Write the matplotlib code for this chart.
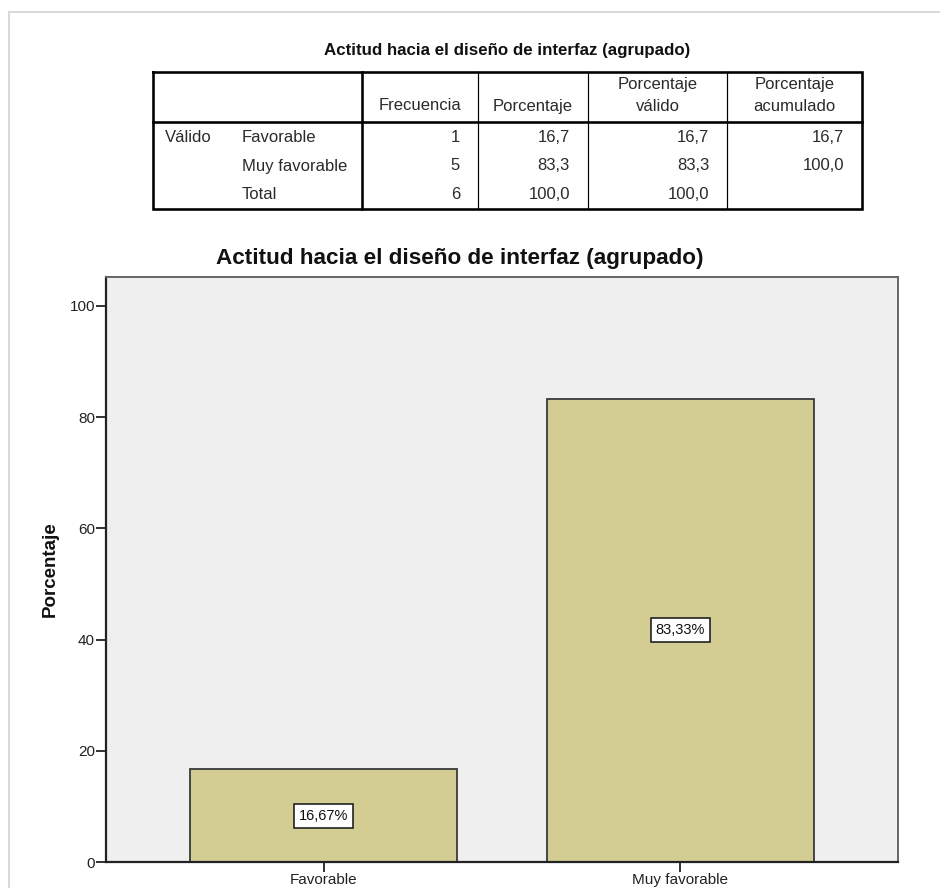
import matplotlib
matplotlib.use("Agg")
import matplotlib.pyplot as plt
from matplotlib import font_manager

# ---- data ----
categories = ["Favorable", "Muy favorable"]
percent_values = [16.67, 83.33]

table_title = "Actitud hacia el diseño de interfaz (agrupado)"
chart_title = "Actitud hacia el diseño de interfaz (agrupado)"
table_group = "Válido"
table_rows = ["Favorable", "Muy favorable", "Total"]
table_headers = ["Frecuencia", "Porcentaje", "Porcentaje\nválido", "Porcentaje\nacumulado"]
freq = [1, 5, 6]
pct = [16.7, 83.3, 100.0]
valid_pct = [16.7, 83.3, 100.0]
cum_pct = [16.7, 100.0, None]
y_ticks = [0, 20, 40, 60, 80, 100]
y_label = "Porcentaje"

BASE = "Liberation Sans"
installed = {f.name for f in font_manager.fontManager.ttflist}
NARROW = "Liberation Sans Narrow" if "Liberation Sans Narrow" in installed else None
plt.rcParams["font.family"] = [BASE, "DejaVu Sans"]

W, H = 940, 888
fig = plt.figure(figsize=(W / 100, H / 100), dpi=100)
fig.patch.set_facecolor("white")


def fx(px):
    return px / W


def fy(py):
    return 1 - py / H


def comma(v, nd):
    return f"{v:.{nd}f}".replace(".", ",")


# ---- bar chart ----
ax = fig.add_axes([fx(106), fy(862), fx(898) - fx(106), fy(277) - fy(862)])
ax.set_facecolor("#efefef")
x = list(range(len(categories)))
bars = ax.bar(x, percent_values, width=0.75, color="#d4cd93",
              edgecolor="#3a3a3a", linewidth=1.3, zorder=2)
for b, v in zip(bars, percent_values):
    ax.text(b.get_x() + b.get_width() / 2, v / 2, comma(v, 2) + "%",
            ha="center", va="center", fontsize=10.5, color="#111111", zorder=3,
            bbox=dict(boxstyle="square,pad=0.35", facecolor="white",
                      edgecolor="#222222", linewidth=1.2))
ax.set_xlim(-0.61, 1.61)
ax.set_ylim(0, 105.2)
ax.set_yticks(y_ticks)
ax.set_yticklabels([str(t) for t in y_ticks])
ax.set_xticks(x)
ax.set_xticklabels(categories)
ax.tick_params(axis="y", length=7, width=1.3, color="#222222",
               labelsize=11, labelcolor="#222222", pad=1)
ax.tick_params(axis="x", length=7, width=1.3, color="#222222",
               labelsize=11, labelcolor="#222222", pad=1)
for side in ("left", "bottom"):
    ax.spines[side].set_color("#222222")
    ax.spines[side].set_linewidth(1.6)
for side in ("top", "right"):
    ax.spines[side].set_color("#666666")
    ax.spines[side].set_linewidth(1.4)
ax.set_ylabel(y_label, fontsize=13.5, fontweight="bold", color="#111111",
              labelpad=8)
fig.text(fx(460), fy(258), chart_title, ha="center", va="center",
         fontsize=16.2, fontweight="bold", color="#111111")

# ---- frequency table and frame (pixel coordinates) ----
ov = fig.add_axes([0, 0, 1, 1], zorder=5)
ov.set_xlim(0, W)
ov.set_ylim(H, 0)
ov.axis("off")
ov.patch.set_alpha(0)

px = 0.72  # points per pixel
frame_c = "#d9d9d9"
ov.plot([9, W], [12, 12], color=frame_c, lw=2 * px)
ov.plot([9, 9], [12, H], color=frame_c, lw=2 * px)

cols = [153, 362, 478, 588, 727, 862]
top, head_bot, bot = 72, 122, 209
thick, thin = 2.6 * px, 1.2 * px

if NARROW:
    ov.text((cols[0] + cols[-1]) / 2, 51, table_title, ha="center",
            va="center", fontsize=13, fontweight="bold",
            family=[NARROW, "DejaVu Sans"], color="#111111")
else:
    ov.text((cols[0] + cols[-1]) / 2, 51, table_title, ha="center",
            va="center", fontsize=12.2, fontweight="bold", color="#111111")

# outer frame and structural lines
ov.plot([cols[0], cols[-1], cols[-1], cols[0], cols[0]],
        [top, top, bot, bot, top], color="black", lw=thick,
        solid_joinstyle="miter")
ov.plot([cols[0], cols[-1]], [head_bot, head_bot], color="black", lw=thick)
ov.plot([cols[1], cols[1]], [top, bot], color="black", lw=thick)
for c in cols[2:-1]:
    ov.plot([c, c], [top, bot], color="black", lw=thin)

fs = 12
tc = "#2a2a2a"
for i, h in enumerate(table_headers):
    xc = (cols[i + 1] + cols[i + 2]) / 2
    ycen = 106 if "\n" not in h else 95.5
    ov.text(xc, ycen, h, ha="center", va="center", fontsize=fs, color=tc,
            linespacing=1.55)

row_y = [137, 166, 194]
ov.text(165, row_y[0], table_group, ha="left", va="center", fontsize=fs, color=tc)
columns_data = [(freq, 0), (pct, 1), (valid_pct, 1), (cum_pct, 1)]
for r, name in enumerate(table_rows):
    ov.text(242, row_y[r], name, ha="left", va="center", fontsize=fs, color=tc)
    for ci, (vals, nd) in enumerate(columns_data):
        v = vals[r]
        if v is None:
            continue
        s = str(v) if nd == 0 else comma(v, nd)
        ov.text(cols[ci + 2] - 18, row_y[r], s, ha="right", va="center",
                fontsize=fs, color=tc)

fig.savefig("out.png", dpi=100, facecolor="white")
